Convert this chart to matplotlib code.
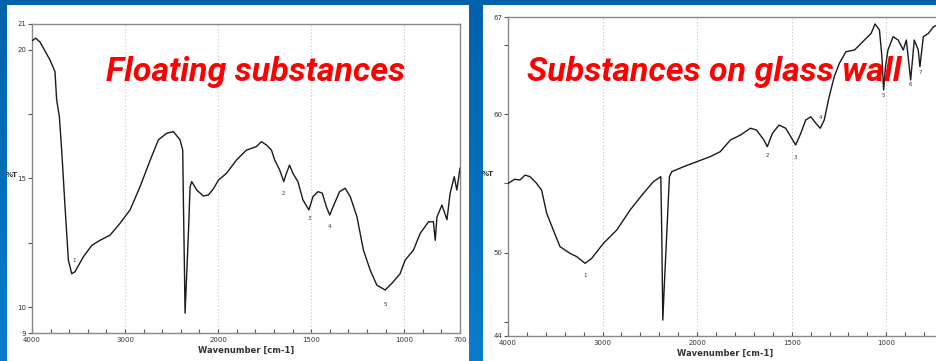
import numpy as np
import matplotlib
matplotlib.use("Agg")
import matplotlib.pyplot as plt
from matplotlib.patches import Rectangle
from matplotlib.colors import LinearSegmentedColormap

# ---------------- data ----------------
# Left panel: Floating substances  (wavenumber cm-1, %T)
left_wn = [4000, 3960, 3914, 3860, 3806, 3753, 3735, 3706, 3681, 3645, 3609, 3573,
           3538, 3448, 3358, 3269, 3161, 3054, 2946, 2839, 2731, 2642, 2552, 2480,
           2409, 2380, 2373, 2362, 2355, 2337, 2319, 2301, 2283, 2229, 2158, 2104,
           2050, 1998, 1955, 1901, 1848, 1794, 1767, 1740, 1713, 1696, 1669, 1647,
           1633, 1616, 1598, 1571, 1544, 1512, 1490, 1463, 1440, 1418, 1400, 1374,
           1347, 1317, 1290, 1254, 1219, 1183, 1147, 1102, 1066, 1022, 995, 950,
           914, 869, 843, 833, 824, 797, 770, 753, 731, 717, 700]
left_t = [20.35, 20.45, 20.3, 19.95, 19.6, 19.15, 18.05, 17.4, 16.1, 13.9, 11.83, 11.3,
          11.38, 11.96, 12.4, 12.6, 12.8, 13.26, 13.78, 14.68, 15.7, 16.5, 16.76, 16.82,
          16.5, 16.1, 14.17, 11.6, 9.77, 11.3, 12.87, 14.68, 14.88, 14.55, 14.32, 14.36,
          14.6, 14.94, 15.2, 15.72, 16.1, 16.24, 16.43, 16.3, 16.1, 15.72, 15.33, 14.88,
          15.2, 15.52, 15.2, 14.88, 14.17, 13.78, 14.3, 14.49, 14.43, 13.9, 13.58, 14.04,
          14.49, 14.62, 14.3, 13.52, 12.22, 11.45, 10.86, 10.67, 10.93, 11.3, 11.83, 12.22,
          12.87, 13.32, 13.32, 12.6, 13.5, 13.97, 13.4, 14.43, 15.07, 14.55, 15.4]
left_peak_wn = [3545, 1647, 1512, 1400, 1102]
left_peak_lab = ["1", "2", "3", "4", "5"]

# Right panel: Substances on glass wall
right_wn = [4000, 3930, 3873, 3820, 3767, 3697, 3644, 3591, 3521, 3450, 3344, 3273,
            3185, 3115, 2991, 2850, 2709, 2568, 2462, 2384, 2374, 2363, 2346, 2321,
            2293, 2268, 2145, 2003, 1931, 1878, 1824, 1771, 1718, 1686, 1647, 1629,
            1602, 1567, 1532, 1505, 1479, 1452, 1426, 1399, 1372, 1349, 1328, 1302,
            1275, 1248, 1213, 1168, 1124, 1080, 1059, 1036, 1023, 1014, 1004, 991,
            964, 937, 910, 894, 871, 852, 831, 822, 804, 777, 750, 732]
right_t = [55.0, 55.3, 55.25, 55.6, 55.49, 55.0, 54.5, 52.85, 51.64, 50.44, 49.96, 49.72,
           49.24, 49.6, 50.68, 51.64, 53.08, 54.29, 55.13, 55.49, 51.4, 45.15, 47.8, 51.4,
           55.49, 55.85, 56.2, 56.57, 56.93, 57.29, 58.13, 58.49, 58.98, 58.85, 58.13, 57.65,
           58.61, 59.21, 58.98, 58.37, 57.77, 58.61, 59.57, 59.81, 59.33, 58.98, 59.57, 61.25,
           62.7, 63.66, 64.5, 64.62, 65.22, 65.82, 66.5, 66.06, 64.14, 61.74, 63.42, 64.62,
           65.58, 65.34, 64.62, 65.34, 62.46, 65.34, 64.62, 63.42, 65.58, 65.82, 66.3, 66.4]
right_peak_wn = [3185, 1629, 1479, 1349, 1014, 871, 822]
right_peak_lab = ["1", "2", "3", "4", "5", "6", "7"]

x_ticks = [4000, 3000, 2000, 1500, 1000, 700]
left_yticks = [21, 20, 15, 10, 9]
right_yticks = [67, 60, 50, 44]

# ---------------- scale (IR instrument: 2x expansion below 2000) ----------------
def fwd(w):
    w = np.asarray(w, dtype=float)
    return np.where(w >= 2000, w, 2000 - (2000 - w) * 2)

def inv(q):
    q = np.asarray(q, dtype=float)
    return np.where(q >= 2000, q, 2000 - (2000 - q) / 2)

W, H = 936, 361
fig = plt.figure(figsize=(W / 100, H / 100), dpi=100)

# blue gradient background
bg = fig.add_axes([0, 0, 1, 1])
grad = np.linspace(0, 1, 256).reshape(-1, 1)
cmap = LinearSegmentedColormap.from_list("bl", ["#0a7dcc", "#0062aa"])
bg.imshow(grad, aspect="auto", cmap=cmap, extent=[0, 1, 0, 1], origin="lower")
bg.set_axis_off()

# white panels
fig.add_artist(Rectangle((7 / W, 0), 462 / W, (H - 5) / H, transform=fig.transFigure,
                         facecolor="white", edgecolor="none", zorder=1))
fig.add_artist(Rectangle((483 / W, 0), 453 / W, (H - 5) / H, transform=fig.transFigure,
                         facecolor="white", edgecolor="none", zorder=1))


def setup(ax, wn, t, ylim, yticks, yminor, peaks, labels, lab_off, xlabels):
    ax.set_zorder(3)
    ax.patch.set_alpha(0)
    ax.set_xscale("function", functions=(fwd, inv))
    ax.set_xlim(4000, 700)
    ax.set_ylim(*ylim)
    ax.plot(wn, t, color="#1a1a1a", lw=1.0, zorder=3)
    ax.set_xticks(x_ticks)
    ax.set_xticklabels(xlabels)
    minor = [v for v in range(3800, 2000, -200) if v not in x_ticks] + \
            [v for v in range(1900, 700, -100) if v not in x_ticks]
    ax.set_xticks(minor, minor=True)
    ax.set_yticks(yticks)
    ax.set_yticklabels([str(v) for v in yticks])
    ax.set_yticks(yminor, minor=True)
    ax.tick_params(axis="x", which="both", direction="in", length=3, width=0.8,
                   colors="#555555", labelsize=5, pad=3, labelcolor="#333333")
    ax.tick_params(axis="y", which="both", direction="out", length=3, width=0.8,
                   colors="#555555", labelsize=5, pad=1, labelcolor="#333333")
    for s in ax.spines.values():
        s.set_color("#888888")
        s.set_linewidth(1.0)
    for v in [3000, 2000, 1500, 1000]:
        ax.axvline(v, color="#c4c4c4", lw=0.8, ls=(0, (1, 2)), zorder=1)
    ax.set_xlabel("Wavenumber [cm-1]", fontsize=6, fontweight="bold",
                  color="#333333", labelpad=2)
    ax.set_ylabel("%T", fontsize=5, fontweight="bold", rotation=0,
                  color="#333333", labelpad=4)
    wn_arr = np.array(wn)
    t_arr = np.array(t)
    for p, lab in zip(peaks, labels):
        yv = t_arr[np.argmin(np.abs(wn_arr - p))]
        ax.text(p, yv + lab_off[lab], lab,
                fontsize=4, ha="center", va="center", color="#333333", zorder=4)


axL = fig.add_axes([32 / W, (H - 333) / H, 428 / W, 309 / H])
setup(axL, left_wn, left_t, (9, 21), left_yticks, [17.5, 12.5],
      left_peak_wn, left_peak_lab,
      {"1": 0.45, "2": -0.45, "3": -0.35, "4": -0.45, "5": -0.55},
      [str(v) for v in x_ticks])

axR = fig.add_axes([508 / W, (H - 336) / H, 435 / W, 319 / H])
setup(axR, right_wn, right_t, (44, 67), right_yticks, [65, 55, 45],
      right_peak_wn, right_peak_lab,
      {"1": -0.9, "2": -0.6, "3": -0.9, "4": 0.8, "5": -0.4, "6": -0.3, "7": -0.4},
      [str(v) for v in x_ticks[:-1]] + [""])

# red titles
title_font = ["Roboto", "DejaVu Sans"]
fig.text(256 / W, (H - 81) / H, "Floating substances", color="#ff0000",
         fontsize=24.5, fontweight="bold", style="italic", ha="center", va="baseline",
         family=title_font, zorder=10)
fig.text(714 / W, (H - 81) / H, "Substances on glass wall", color="#ff0000",
         fontsize=24.5, fontweight="bold", style="italic", ha="center", va="baseline",
         family=title_font, zorder=10)

fig.savefig("out.png", dpi=100)
